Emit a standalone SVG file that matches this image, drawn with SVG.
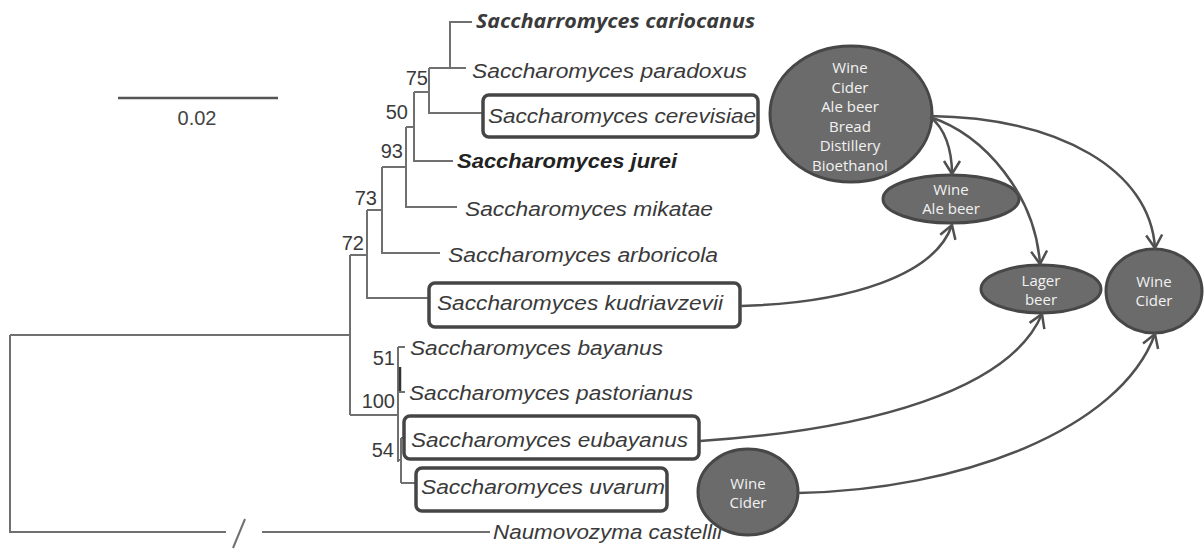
<svg xmlns="http://www.w3.org/2000/svg" width="1204" height="549" viewBox="0 0 1204 549">
<style>
.br{fill:none;stroke:#707070;stroke-width:2}
.sp{font-family:"Liberation Sans",Arial,sans-serif;font-style:italic;font-size:20px;fill:#3a3a3a}
.bs{font-weight:bold;fill:#222}
.bl{font-family:"Liberation Sans",Arial,sans-serif;font-size:20px;fill:#3a3a3a;text-anchor:end}
.box{fill:none;stroke:#454545;stroke-width:3.5}
.el{fill:#6b6b6b;stroke:#474747;stroke-width:3}
.et{font-family:"Open Sans","Noto Sans",sans-serif;font-size:15px;fill:#f2f2f2;text-anchor:middle}
.cn{fill:none;stroke:#505050;stroke-width:2.5}
</style>
<defs>
<marker id="arr" viewBox="0 0 20 20" refX="18" refY="10" markerWidth="20" markerHeight="20" markerUnits="userSpaceOnUse" orient="auto">
<path d="M 5 2 L 18 10 L 5 18" fill="none" stroke="#505050" stroke-width="2.5"/>
</marker>
</defs>
<rect width="1204" height="549" fill="#ffffff"/>

<g id="scale">
<line x1="118" y1="98" x2="278" y2="98" stroke="#555" stroke-width="2.5"/>
<text x="197" y="125" font-family="Liberation Sans,Arial,sans-serif" font-size="20" fill="#444" text-anchor="middle">0.02</text>
</g>

<g id="tree">
<path class="br" d="M 450 68 V 22 H 472"/>
<path class="br" d="M 429 68 H 466"/>
<path class="br" d="M 429 68 V 113 H 482"/>
<path class="br" d="M 414 92 H 429"/>
<path class="br" d="M 414 92 V 161 H 453"/>
<path class="br" d="M 406 127 H 414"/>
<path class="br" d="M 406 127 V 207 H 457"/>
<path class="br" d="M 382 167 H 406"/>
<path class="br" d="M 382 167 V 253 H 440"/>
<path class="br" d="M 367 210 H 382"/>
<path class="br" d="M 367 210 V 298 H 428"/>
<path class="br" d="M 350 255 H 367"/>
<path class="br" d="M 350 255 V 415"/>
<path class="br" d="M 10 335 H 350"/>
<path class="br" d="M 10 335 V 532 H 226"/>
<path class="br" d="M 262 532 H 490"/>
<path class="br" d="M 233 548 L 245 519"/>
<path class="br" d="M 350 415 H 398"/>
<path class="br" d="M 398 347 V 462"/>
<path class="br" d="M 398 347 H 405"/>
<path d="M 400 367 V 392" stroke="#333" stroke-width="2.5"/>
<path class="br" d="M 398 392 H 405"/>
<path class="br" d="M 401 438 V 483"/>
<path class="br" d="M 398 460 H 401"/>
<path class="br" d="M 401 438 H 404"/>
<path class="br" d="M 401 483 H 415"/>
<text class="bl" x="428" y="85">75</text>
<text class="bl" x="408" y="119">50</text>
<text class="bl" x="403" y="158">93</text>
<text class="bl" x="377" y="205">73</text>
<text class="bl" x="364" y="250">72</text>
<text class="bl" x="395" y="365">51</text>
<text class="bl" x="395" y="408">100</text>
<text class="bl" x="394" y="457">54</text>
</g>

<g id="cariocanus"><text x="476" y="28" font-family="Open Sans,Noto Sans,sans-serif" font-size="20" font-style="italic" font-weight="bold" fill="#3a3a3a" textLength="279" lengthAdjust="spacingAndGlyphs">Saccharromyces cariocanus</text></g>
<g id="paradoxus"><text class="sp" x="472" y="78" textLength="275" lengthAdjust="spacingAndGlyphs">Saccharomyces paradoxus</text></g>
<g id="cerevisiae"><rect class="box" x="483" y="95" width="275" height="42" rx="6"/><text class="sp" x="488" y="123" textLength="268" lengthAdjust="spacingAndGlyphs">Saccharomyces cerevisiae</text></g>
<g id="jurei"><text class="sp bs" x="457" y="168" textLength="220" lengthAdjust="spacingAndGlyphs">Saccharomyces jurei</text></g>
<g id="mikatae"><text class="sp" x="465" y="216" textLength="248" lengthAdjust="spacingAndGlyphs">Saccharomyces mikatae</text></g>
<g id="arboricola"><text class="sp" x="448" y="262" textLength="270" lengthAdjust="spacingAndGlyphs">Saccharomyces arboricola</text></g>
<g id="kudriavzevii"><rect class="box" x="429" y="283" width="311" height="44" rx="6"/><text class="sp" x="437" y="310" textLength="286" lengthAdjust="spacingAndGlyphs">Saccharomyces kudriavzevii</text></g>
<g id="bayanus"><text class="sp" x="410" y="355" textLength="253" lengthAdjust="spacingAndGlyphs">Saccharomyces bayanus</text></g>
<g id="pastorianus"><text class="sp" x="409" y="400" textLength="284" lengthAdjust="spacingAndGlyphs">Saccharomyces pastorianus</text></g>
<g id="eubayanus"><rect class="box" x="404" y="416" width="295" height="43" rx="6"/><text class="sp" x="411" y="447" textLength="277" lengthAdjust="spacingAndGlyphs">Saccharomyces eubayanus</text></g>
<g id="uvarum"><rect class="box" x="416" y="468" width="251" height="43" rx="6"/><text class="sp" x="421" y="494" textLength="244" lengthAdjust="spacingAndGlyphs">Saccharomyces uvarum</text></g>
<g id="castellii"><text class="sp" x="493" y="539" textLength="229" lengthAdjust="spacingAndGlyphs">Naumovozyma castellii</text></g>

<g id="use-cerevisiae"><ellipse class="el" cx="851" cy="114" rx="81" ry="68"/>
<text class="et" x="850" y="73">Wine</text><text class="et" x="850" y="92.5">Cider</text><text class="et" x="850" y="112">Ale beer</text><text class="et" x="850" y="131.5">Bread</text><text class="et" x="850" y="151">Distillery</text><text class="et" x="850" y="170.5">Bioethanol</text></g>
<g id="use-wine-ale"><ellipse class="el" cx="951" cy="199" rx="68" ry="24"/><text class="et" x="951" y="195">Wine</text><text class="et" x="951" y="214">Ale beer</text></g>
<g id="use-lager"><ellipse class="el" cx="1041" cy="289" rx="60" ry="24"/><text class="et" x="1041" y="286">Lager</text><text class="et" x="1041" y="305">beer</text></g>
<g id="use-wine-cider-right"><ellipse class="el" cx="1154" cy="291" rx="48" ry="42"/><text class="et" x="1154" y="287">Wine</text><text class="et" x="1154" y="306">Cider</text></g>
<g id="use-wine-cider-uvarum"><ellipse class="el" cx="748" cy="492" rx="50" ry="43"/><text class="et" x="748" y="489">Wine</text><text class="et" x="748" y="508">Cider</text></g>

<g id="connectors">
<path class="cn" marker-end="url(#arr)" d="M 930 117 C 945 128, 952 150, 952 174"/>
<path class="cn" marker-end="url(#arr)" d="M 930 117 C 985 135, 1035 195, 1040 264"/>
<path class="cn" marker-end="url(#arr)" d="M 930 116 C 1060 118, 1150 170, 1155 248"/>
<path class="cn" marker-end="url(#arr)" d="M 741 306 C 850 303, 935 275, 952 225"/>
<path class="cn" marker-end="url(#arr)" d="M 700 441 C 870 430, 1010 390, 1042 314"/>
<path class="cn" marker-end="url(#arr)" d="M 798 493 C 960 490, 1120 430, 1155 334"/>
</g>
</svg>
